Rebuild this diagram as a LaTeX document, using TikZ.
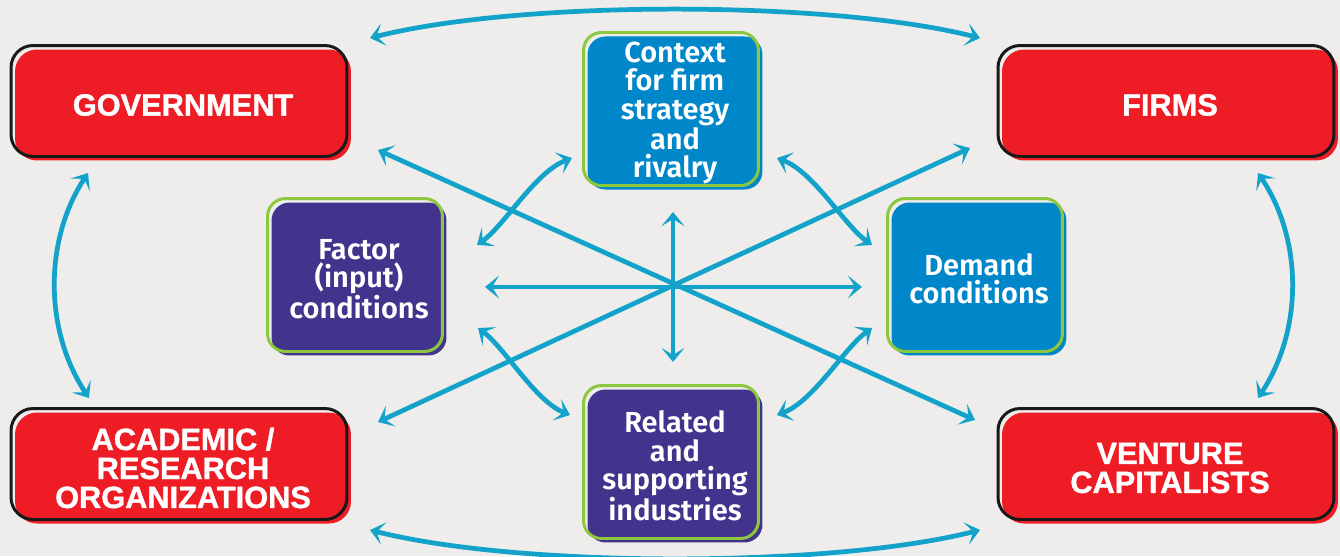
\documentclass[tikz,border=0pt]{standalone}
\usepackage{fontspec}
\setmainfont{Liberation Sans}[BoldFeatures={FakeBold=1.2}]
\newfontfamily\boxfont{Fira Sans}[UprightFont={* SemiBold}]
\usetikzlibrary{arrows.meta}

\definecolor{bggray}{HTML}{EEEDEB}
\definecolor{actorred}{HTML}{EE1C25}
\definecolor{diamblue}{HTML}{0087C9}
\definecolor{diampurple}{HTML}{42348C}
\definecolor{diamgreen}{HTML}{8DC63F}
\definecolor{linkcyan}{HTML}{13A3CA}

\begin{document}
\begin{tikzpicture}[x=0.02cm, y=-0.02cm,
		actor/.style={rectangle, rounded corners=0.44cm, fill=actorred, text=white,
			minimum width=6.72cm, minimum height=2.22cm, align=center,
			font=\bfseries\fontsize{17.5}{16.5}\selectfont,
			postaction={draw=black!90, line width=1.7pt, transform canvas={shift={(-4,-4)}}}},
		diam/.style={rectangle, rounded corners=0.36cm, text=white,
			minimum width=3.5cm, minimum height=3.06cm, align=center,
			font=\boxfont\fontsize{16.5}{16}\selectfont,
			postaction={draw=diamgreen, line width=1.7pt, transform canvas={shift={(-4,-4)}}}},
		link/.style={draw=linkcyan, line width=2.7pt,
			{Stealth[length=8pt, width=13pt, inset=4pt]}-{Stealth[length=8pt, width=13pt, inset=4pt]}}
		]
		\fill[bggray] (0,0) rectangle (1340,556);
		\useasboundingbox (0,0) rectangle (1340,556);
		\clip (0,0) rectangle (1340,556);

		% the four actors
		\node[actor] (gov) at (183,105) {GOVERNMENT};
		\node[actor] (firms) at (1170,105) {FIRMS};
		\node[actor] (acad) at (183,468) {ACADEMIC /\\RESEARCH\\ORGANIZATIONS};
		\node[actor] (vc) at (1170,468) {VENTURE\\CAPITALISTS};

		% the diamond
		\node[diam, fill=diamblue] (ctx) at (675,113) {\raisebox{-3pt}{\parbox{3cm}{\centering Context\\for firm\\strategy\\and\\rivalry}}};
		\node[diam, fill=diampurple] (factor) at (359,279) {Factor\\(input)\\conditions};
		\node[diam, fill=diamblue] (demand) at (979,279) {Demand\\conditions};
		\node[diam, fill=diampurple] (related) at (675,466) {Related\\and\\supporting\\industries};

		% link ends
		\coordinate (govR) at (370,38);  \coordinate (firmsL) at (980,38);
		\coordinate (acadR) at (370,530); \coordinate (vcL) at (980,530);
		\coordinate (govB) at (88,173);  \coordinate (acadT) at (89,398);
		\coordinate (firmsB) at (1258,173); \coordinate (vcT) at (1258,398);
		\coordinate (govD) at (378,150); \coordinate (vcD) at (975,420);
		\coordinate (firmsD) at (970,148); \coordinate (acadD) at (378,422);
		\coordinate (factorE) at (485,287); \coordinate (demandW) at (862,287);
		\coordinate (ctxS) at (673,212); \coordinate (relatedN) at (673,362);
		\coordinate (factorNE) at (477,245); \coordinate (ctxSW) at (572,158);
		\coordinate (ctxSE) at (777,158); \coordinate (demandNW) at (872,245);
		\coordinate (factorSE) at (478,328); \coordinate (relatedNW) at (570,415);
		\coordinate (relatedNE) at (777,415); \coordinate (demandSW) at (872,328);

		% outer links
		\draw[link] (govR) .. controls (520,0) and (830,0) .. (firmsL);
		\draw[link] (acadR) .. controls (520,568) and (830,568) .. (vcL);
		\draw[link] (govB) .. controls (44,240) and (44,330) .. (acadT);
		\draw[link] (firmsB) .. controls (1303,240) and (1303,330) .. (vcT);
		\draw[link] (govD) -- (vcD);
		\draw[link] (firmsD) -- (acadD);

		% inner links
		\draw[link] (factorE) -- (demandW);
		\draw[link] (ctxS) -- (relatedN);
		\draw[link] (factorNE) .. controls (505,225) and (535,172) .. (ctxSW);
		\draw[link] (demandNW) .. controls (844,225) and (814,172) .. (ctxSE);
		\draw[link] (factorSE) .. controls (505,348) and (535,401) .. (relatedNW);
		\draw[link] (demandSW) .. controls (844,348) and (814,401) .. (relatedNE);
	\end{tikzpicture}
\end{document}
